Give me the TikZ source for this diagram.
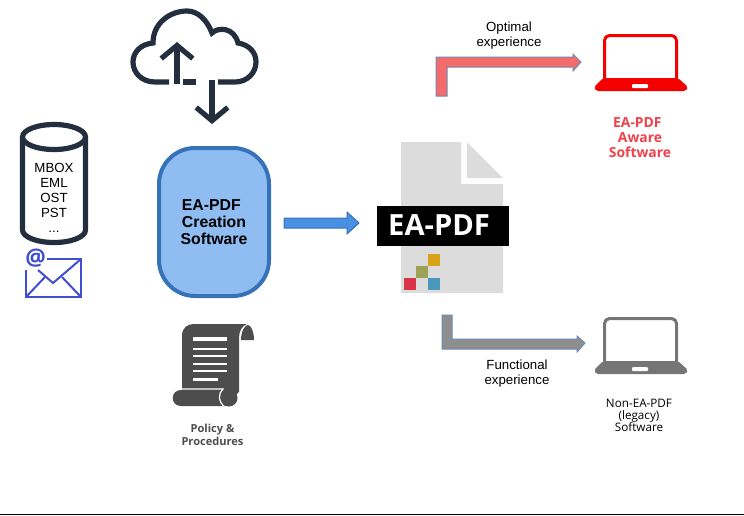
\documentclass[tikz,border=0pt]{standalone}
\usepackage{fontspec}
\setmainfont{Liberation Sans}
\newfontfamily\opensans{Open Sans}
\usetikzlibrary{arrows.meta}
\usetikzlibrary{calc}
\definecolor{ink}{HTML}{232F3E}
\definecolor{boxfill}{HTML}{8FBDF2}
\definecolor{boxline}{HTML}{3572B8}
\definecolor{blockblue}{HTML}{4A90E2}
\definecolor{blockred}{HTML}{F46B6B}
\definecolor{blockgrey}{HTML}{8E8E8E}
\definecolor{mailblue}{HTML}{3F4FCF}
\definecolor{docgrey}{HTML}{DCDCDC}
\definecolor{scrollgrey}{HTML}{4D4D4D}
\definecolor{arrowline}{HTML}{6A8CB4}
\definecolor{awarered}{HTML}{F0404A}
\definecolor{lapred}{HTML}{F50000}
\definecolor{lapgrey}{HTML}{757575}
\definecolor{cellgold}{HTML}{D9A21B}
\definecolor{cellolive}{HTML}{9CA356}
\definecolor{cellred}{HTML}{D93348}
\definecolor{cellblue}{HTML}{4A98BC}
\def\u{0.02cm}

\begin{document}
\begin{tikzpicture}[
x=\u, y=-\u,
label/.style = {align=center, inner sep=0pt, font=\fontsize{7.55}{8.5}\selectfont},
iconline/.style = {ink, line width=5.2*\u},
mailline/.style = {mailblue, line width=2*\u},
blockarrow/.style = {draw=arrowline, line width=1*\u, line join=miter},
cell/.style = {minimum size=12.5*\u, inner sep=0pt, outer sep=0pt}
                ]
    \useasboundingbox (0,0) rectangle (744,515);
    \draw [black, line width=1*\u] (0,514.5) -- (744,514.5);

    % cloud
    \draw [iconline] (169,82) -- (155,82) .. controls (142,82) and (133,73) .. (133,62)
        .. controls (133,52) and (141,44) .. (153,43) .. controls (153,23) and (170,11) .. (187,11)
        .. controls (198,11) and (207,20) .. (212,33) .. controls (218,27) and (234,27) .. (238,43)
        .. controls (250,45) and (256,53) .. (256,62) .. controls (256,73) and (247,82) .. (235,82) -- (218,82);
    \draw [iconline] (183,82) -- (196,82);
    \coordinate (upfrom) at (177,84);
    \coordinate (upto) at (177,42);
    \coordinate (downfrom) at (212,80);
    \draw [iconline, -{Straight Barb[length=7.5pt,width=18pt]}] (upfrom) -- (upto);

    % database
    \draw [iconline] (22.5,137) -- (22.5,230) arc [start angle=180, end angle=0, x radius=31.5, y radius=12.5] -- (85.5,137);
    \draw [iconline] (54,137) ellipse [x radius=31.5, y radius=12.5];
    \node [label] (dblabel) at (54,198) {MBOX\\EML\\OST\\PST\\...};

    % mail
    \draw [mailline] (47,259) -- (81,259) -- (81,297) -- (26,297) -- (26,270);
    \draw [mailline] (38,270) -- (53,283) -- (81,259);
    \draw [mailline] (26,297) -- (45,277);
    \draw [mailline] (81,297) -- (62,277);
    \node [mailblue, inner sep=0pt, font=\opensans\fontsize{13}{13}\bfseries\selectfont] (mailat) at (35.5,258.5) {@};

    % creation box
    \node [draw=boxline, fill=boxfill, line width=4*\u, rounded corners=36*\u,
        minimum width=110*\u, minimum height=148*\u, align=center,
        font=\fontsize{9}{9.7}\bfseries\selectfont] (box) at (214,222)
        {EA-PDF\hspace*{3pt}\\Creation\\Software};
    \coordinate (downto) at ($(box.north)+(-2,-22)$);
    \draw [iconline, -{Straight Barb[length=7.5pt,width=18pt]}] (downfrom) -- (downto);

    % document
    \fill [docgrey] (401,142) -- (461,142) -- (461,184) -- (503,184) -- (503,293) -- (401,293) -- cycle;
    \fill [docgrey] (467,142) -- (503,178) -- (467,178) -- cycle;
    \node [fill=black, text=white, minimum width=132*\u, minimum height=40*\u, inner sep=0pt,
        font=\opensans\fontsize{16.6}{16.6}\bfseries\selectfont] (band) at (443,225.5) {EA-PDF\hspace*{4.5pt}};
    \foreach \x/\y/\col in {434/260/cellgold, 422/272/cellolive, 410/284/cellred, 434/284/cellblue}
        \node [cell, fill=\col] (\col) at (\x,\y) {};

    % block arrows
    \coordinate (bluestart) at ($(box.east)+(13,1)$);
    \coordinate (blueend) at (359,223);
    \draw [blockarrow, draw=boxline, fill=blockblue] ($(bluestart)+(0,-5)$) -- ++(63,0) -- ++(0,-6) -- (blueend)
        -- ++(-12,11) -- ++(0,-6) -- ++(-63,0) -- cycle;
    \coordinate (redstart) at (441.5,96);
    \coordinate (redend) at (581,62);
    \draw [blockarrow, fill=blockred] ($(redstart)+(-5.5,0)$) -- ++(0,-39) -- ++(137,0) -- ++(0,-3) -- (redend)
        -- ++(-8,9) -- ++(0,-4) -- ++(-126,0) -- ++(0,29) -- cycle;
    \coordinate (greystart) at (447,315);
    \coordinate (greyend) at (585,343);
    \draw [blockarrow, fill=blockgrey] ($(greystart)+(-5,0)$) -- ++(10,0) -- ++(0,24) -- ++(125,0) -- ++(0,-3) -- (greyend)
        -- ++(-8,9) -- ++(0,-3) -- ++(-135,0) -- cycle;

    % laptops
    \foreach \dy/\col in {34/lapred, 317/lapgrey} {
        \draw [\col, line width=3*\u, rounded corners=5*\u] (604.5,\dy+45) -- (604.5,\dy+1.5) -- (676.5,\dy+1.5) -- (676.5,\dy+45);
        \fill [\col, rounded corners=2*\u] (603,\dy+44) -- (678,\dy+44) -- (688,\dy+53) -- (686,\dy+57) -- (596,\dy+57) -- (594,\dy+53) -- cycle;
        \fill [white, rounded corners=1*\u] (632,\dy+50) rectangle (648,\dy+54);
    }

    % scroll
    \fill [scrollgrey] (182,398) -- (182,336) .. controls (182,328) and (187,324) .. (194,324) -- (247,324)
        .. controls (242,326) and (239,331) .. (239,338) -- (239,392) -- (230,400) -- cycle;
    \fill [scrollgrey] (241,340) .. controls (241,331) and (245,325) .. (248,325) .. controls (251,325) and (254,332) .. (254,340) -- cycle;
    \fill [scrollgrey] (181,390) -- (226,390) -- (226,406) -- (181,406) .. controls (170,406) and (170,390) .. (181,390) -- cycle;
    \fill [scrollgrey] (229,398) circle [radius=8.5];
    \draw [white, line width=1.2*\u] (181,389) -- (223,389) .. controls (218,393) and (218,402) .. (225,407);
    \draw [white, line width=4.5*\u] (193,339) -- (227,339);
    \foreach \y in {348.5,356,363.5,371}
        \draw [white, line width=2*\u] (193,\y) -- (227,\y);
    \draw [white, line width=3*\u] (193,379) -- (218,379);

    % labels
    \node [label] (optimal) at (509,35.5) {Optimal\\experience};
    \node [label] (functional) at (517,373.5) {Functional\\experience};
    \node [align=center, inner sep=0pt, text=awarered, font=\opensans\fontsize{7.9}{8.5}\bfseries\selectfont] (aware) at (640,137.5)
        {EA-PDF\hspace*{3pt}\\Aware\\Software};
    \node [align=center, inner sep=0pt, font=\opensans\fontsize{6.65}{6.9}\selectfont] (legacy) at (639,415)
        {Non-EA-PDF\\(legacy)\\Software};
    \node [align=center, inner sep=0pt, text=scrollgrey, font=\opensans\fontsize{6.3}{7.3}\bfseries\selectfont] (policy) at (212.5,434.5)
        {Policy \&\\Procedures};
\end{tikzpicture}
\end{document}
